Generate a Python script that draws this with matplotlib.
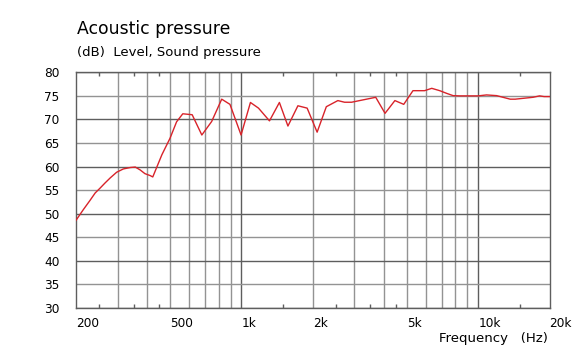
import matplotlib
matplotlib.use("Agg")
import matplotlib.pyplot as plt
import numpy as np

# Data
freq_hz = [200, 215, 229, 241, 253, 265, 279, 297, 317, 339, 356, 373, 391, 411, 422,
           461, 499, 532, 565, 619, 680, 748, 825, 894, 996, 1091, 1180, 1313, 1446,
           1571, 1731, 1894, 2087, 2282, 2553, 2725, 2917, 3690, 4040, 4446, 4846,
           5300, 5933, 6364, 6879, 7339, 7831, 8355, 10000, 10840, 11960, 13650,
           14330, 17040, 18170, 18980, 20000]
level_db = [48.6, 50.9, 52.8, 54.4, 55.45, 56.5, 57.6, 58.8, 59.5, 59.8, 59.9, 59.3, 58.5,
            58.1, 57.8, 62.5, 66.0, 69.5, 71.2, 71.0, 66.7, 69.55, 74.3, 73.2, 66.7,
            73.6, 72.4, 69.7, 73.6, 68.6, 72.9, 72.4, 67.3, 72.7, 74.0, 73.65, 73.65,
            74.7, 71.3, 74.0, 73.2, 76.1, 76.1, 76.6, 76.1, 75.55, 75.05, 75.0, 75.0,
            75.2, 75.05, 74.3, 74.3, 74.7, 75.0, 74.85, 74.85]

x_major = [200, 500, 1000, 2000, 5000, 10000, 20000]
x_major_labels = ["200", "500", "1k", "2k", "5k", "10k", "20k"]
x_grid_light = [300, 400, 500, 600, 700, 800, 900, 2000, 3000, 4000, 5000, 6000, 7000, 8000, 9000]
x_grid_dark = [1000, 10000]
x_minor = [250, 350, 450, 1500, 2500, 3500, 4500, 15000]
y_ticks = [30, 35, 40, 45, 50, 55, 60, 65, 70, 75, 80]

title = "Acoustic pressure"
subtitle = "(dB)  Level, Sound pressure"
xlabel = "Frequency   (Hz)"

W, H = 578, 351
fig = plt.figure(figsize=(W / 100, H / 100), dpi=100)
plt.rcParams['font.family'] = ['DejaVu Sans']
ax = fig.add_axes([76 / W, 1 - 308 / H, (549.5 - 76) / W, (308 - 72.3) / H])

ax.set_xscale('log')
ax.set_xlim(200, 20000)
ax.set_ylim(30, 80)

dark = '#5e5e5e'
light = '#939393'
for f in x_grid_light:
    ax.axvline(f, color=light, lw=1.0, zorder=1)
for f in x_grid_dark:
    ax.axvline(f, color=dark, lw=1.0, zorder=1)
for v in y_ticks:
    ax.axhline(v, color=(dark if v % 10 == 0 else light), lw=1.0, zorder=1)

ax.plot(freq_hz, level_db, color='#d8232a', lw=1.0, zorder=3)

ax.set_xticks(x_major)
ax.set_xticklabels(x_major_labels)
ax.set_xticks(x_minor, minor=True)
ax.xaxis.set_minor_formatter(matplotlib.ticker.NullFormatter())
ax.tick_params(axis='x', which='major', length=0, pad=6.5, labelsize=8.7, colors='black')
ax.tick_params(axis='x', which='minor', length=3, direction='in', top=True, bottom=True,
               color=dark, width=1.0)
for lbl in ax.get_xticklabels():
    lbl.set_horizontalalignment('left')

ax.set_yticks(y_ticks)
ax.tick_params(axis='y', which='major', length=0, pad=12, labelsize=8.7)
ax.yaxis.set_minor_locator(matplotlib.ticker.NullLocator())

for s in ax.spines.values():
    s.set_color(dark)
    s.set_linewidth(1.0)

fig.text(77 / W, 1 - 34.3 / H, title, fontsize=12.4, va='baseline', ha='left')
fig.text(77 / W, 1 - 55.7 / H, subtitle, fontsize=9.5, va='baseline', ha='left')
fig.text(548 / W, 1 - 342.3 / H, xlabel, fontsize=9.5, va='baseline', ha='right')

fig.savefig('out.png', dpi=100)
